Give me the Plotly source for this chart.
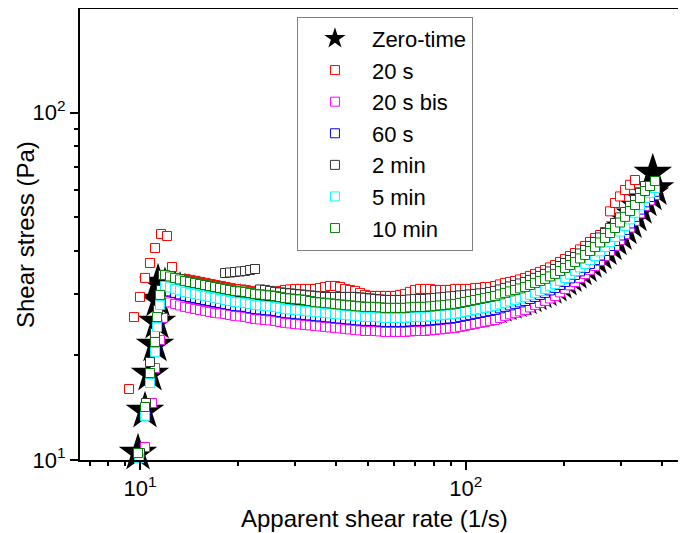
import plotly.graph_objects as go

# Shared shear-rate grid (1/s) for the main flow-curve branch
rate = [11.93, 12.36, 12.81, 13.27, 13.74, 14.24, 14.75, 15.28, 15.83, 16.40,
        16.99, 17.60, 18.24, 18.89, 19.57, 20.28, 21.01, 21.77, 22.54, 23.36,
        24.19, 25.06, 25.96, 26.90, 27.87, 28.87, 29.91, 30.98, 32.09, 33.25,
        34.44, 35.68, 36.97, 38.30, 39.67, 41.10, 42.58, 44.11, 45.70, 47.34,
        49.05, 50.81, 52.64, 54.53, 56.49, 58.52, 60.63, 62.81, 65.07, 67.41,
        69.84, 72.35, 74.95, 77.65, 80.44, 83.34, 86.34, 89.44, 92.66, 95.99,
        99.43, 103.0, 106.7, 110.6, 114.5, 118.7, 122.9, 127.3, 131.9, 136.7,
        141.6, 146.7, 152.0, 157.4, 163.1, 169.0, 175.0, 181.3, 187.9, 194.6,
        201.6, 208.9, 216.4, 224.2, 232.3, 240.6, 249.3, 258.2, 267.5, 277.2,
        287.1, 297.5, 308.2, 319.3, 330.6, 342.6, 354.8, 367.6, 380.8]

# Zero-time (stars)
zero_spike_x = [9.86, 10.36, 10.73, 11.12, 11.28, 11.36, 11.36]
zero_spike_y = [10.47, 13.84, 17.68, 21.45, 24.97, 28.90, 32.34]
zero_band = [31.52, 31.22, 30.90, 30.60, 30.30, 30.10, 29.90, 29.70, 29.50, 29.30,
             29.10, 28.92, 28.72, 28.53, 28.35, 28.25, 28.16, 27.97, 27.79, 27.70,
             27.60, 27.51, 27.42, 27.24, 27.06, 26.97, 26.88, 26.79, 26.70, 26.61,
             26.53, 26.44, 26.35, 26.26, 26.18, 26.09, 26.00, 25.92, 25.83, 25.75,
             25.66, 25.66, 25.66, 25.57, 25.49, 25.49, 25.49, 25.49, 25.49, 25.57,
             25.66, 25.66, 25.66, 25.75, 25.83, 25.92, 26.00, 26.09, 26.18, 26.35,
             26.53, 26.70, 26.88, 27.06, 27.24, 27.42, 27.60, 27.88, 28.16, 28.44,
             28.72, 29.00, 29.30, 29.70, 30.10, 30.50, 30.90, 31.40, 31.90, 32.50,
             33.20, 33.95, 34.70, 35.50, 36.30, 37.30, 38.30, 39.45, 40.60, 41.95,
             43.30, 44.90, 46.60, 48.60, 50.80, 53.40, 56.10, 58.40, 60.50]
zero_end_x = [375.0]
zero_end_y = [67.0]

# 20 s (red)
red_spike_x = [9.25, 9.585, 10.0, 10.36, 10.73, 11.12, 11.60, 12.10, 12.54]
red_spike_y = [16.01, 25.80, 29.48, 33.44, 36.91, 40.77, 44.74, 44.16, 35.96]
red_band = [33.21, 33.00, 32.78, 32.56, 32.35, 32.13, 31.92, 31.71, 31.50, 31.29,
            31.09, 30.98, 30.88, 30.68, 30.48, 30.38, 30.28, 30.38, 30.48, 30.68,
            30.88, 30.98, 31.09, 31.09, 31.09, 31.09, 31.09, 31.29, 31.50, 31.71,
            31.71, 31.50, 31.09, 30.88, 30.68, 30.28, 29.88, 29.68, 29.68, 29.68,
            29.68, 29.68, 29.68, 29.88, 30.08, 30.48, 30.88, 31.09, 31.09, 31.09,
            30.88, 30.88, 30.88, 30.88, 31.09, 31.09, 31.09, 31.09, 31.29, 31.29,
            31.50, 31.50, 31.71, 32.03, 32.35, 32.56, 32.78, 33.11, 33.44, 33.89,
            34.34, 34.80, 35.26, 35.85, 36.44, 37.18, 37.92, 38.68, 39.45, 40.39,
            41.33, 42.45, 43.58, 44.45, 45.35, 52.0, 54.95, 57.4, 59.9, 62.0,
            64.0]
red_start = 4

# 20 s bis (magenta)
mag_spike_x = [10.36, 10.88, 11.12, 11.52, 11.76]
mag_spike_y = [10.90, 14.59, 18.40, 22.17, 25.64]
mag_band = [28.71, 28.43, 28.15, 27.87, 27.60, 27.42, 27.23, 27.05, 26.87, 26.70,
            26.52, 26.43, 26.35, 26.17, 26.00, 25.91, 25.83, 25.65, 25.48, 25.39,
            25.31, 25.23, 25.15, 24.98, 24.82, 24.73, 24.65, 24.57, 24.49, 24.41,
            24.33, 24.25, 24.17, 24.09, 24.01, 23.93, 23.85, 23.77, 23.69, 23.61,
            23.53, 23.53, 23.53, 23.45, 23.38, 23.38, 23.38, 23.38, 23.38, 23.45,
            23.53, 23.53, 23.53, 23.61, 23.69, 23.77, 23.85, 23.93, 24.01, 24.17,
            24.33, 24.49, 24.65, 24.82, 24.98, 25.15, 25.31, 25.65, 26.00, 26.26,
            26.52, 26.78, 27.05, 27.50, 27.96, 28.33, 28.71, 29.19, 29.68, 30.38,
            31.09, 31.82, 32.56, 33.45, 34.34, 35.27, 36.20, 37.44, 38.68, 40.0,
            41.33, 43.0, 44.76, 46.7, 48.8, 51.3, 53.9, 55.9, 57.9]

# 60 s (blue)
blue_spike_x = [9.95, 10.4, 10.75, 11.15, 11.3, 11.55]
blue_spike_y = [10.3, 13.6, 17.0, 20.9, 24.6, 28.4]
blue_band = [30.88, 30.58, 30.28, 29.98, 29.68, 29.48, 29.29, 29.09, 28.90, 28.71,
             28.52, 28.34, 28.15, 27.96, 27.78, 27.69, 27.60, 27.42, 27.23, 27.14,
             27.05, 26.96, 26.87, 26.70, 26.52, 26.43, 26.35, 26.26, 26.17, 26.08,
             26.00, 25.91, 25.83, 25.74, 25.65, 25.56, 25.48, 25.39, 25.31, 25.23,
             25.15, 25.15, 25.15, 25.06, 24.98, 24.98, 24.98, 24.98, 24.98, 25.06,
             25.15, 25.15, 25.15, 25.23, 25.31, 25.39, 25.48, 25.56, 25.65, 25.83,
             26.00, 26.17, 26.35, 26.52, 26.70, 26.87, 27.05, 27.33, 27.60, 27.87,
             28.15, 28.43, 28.71, 29.09, 29.48, 29.88, 30.28, 30.78, 31.29, 31.92,
             32.56, 33.33, 34.11, 34.92, 35.73, 36.68, 37.67, 38.80, 39.98, 41.33,
             42.72, 44.30, 45.96, 48.0, 50.12, 52.6, 55.2, 57.2, 59.2]

# 2 min (black)
gray_spike_x = [10.0, 10.43, 10.73, 11.12, 11.36, 11.60, 11.76]
gray_spike_y = [10.47, 14.59, 19.15, 23.22, 27.05, 30.88, 34.11]
gray_band = [33.44, 33.11, 32.78, 32.56, 32.35, 32.13, 31.92, 31.71, 31.50, 31.29,
             34.55, 34.66, 34.78, 34.90, 35.02, 35.25, 35.48, 30.98, 30.88, 30.68,
             30.48, 30.38, 30.28, 30.18, 30.08, 29.98, 29.88, 29.78, 29.68, 29.58,
             29.48, 29.48, 29.48, 29.48, 29.48, 29.48, 29.48, 29.38, 29.29, 29.19,
             29.09, 29.00, 28.90, 28.90, 28.90, 28.90, 28.90, 29.00, 29.09, 29.09,
             29.09, 29.19, 29.29, 29.38, 29.48, 29.58, 29.68, 29.78, 29.88, 29.98,
             30.08, 30.18, 30.28, 30.48, 30.68, 30.98, 31.29, 31.61, 31.92, 32.24,
             32.56, 33.00, 33.44, 33.89, 34.34, 34.91, 35.48, 36.19, 36.91, 37.66,
             38.42, 39.33, 40.25, 41.34, 42.43, 43.74, 45.05, 46.59, 48.13, 49.97,
             51.8, 53.95, 56.1, 58.8, 61.5]
gray_start = 2

# 5 min (cyan)
cyan_spike_x = [9.93, 10.36, 10.73, 11.12, 11.28, 11.52]
cyan_spike_y = [10.13, 13.39, 16.66, 20.47, 24.15, 27.96]
cyan_band = [31.71, 31.40, 31.09, 30.78, 30.48, 30.28, 30.08, 29.88, 29.68, 29.48,
             29.29, 29.09, 28.90, 28.71, 28.52, 28.43, 28.34, 28.15, 27.96, 27.87,
             27.78, 27.69, 27.60, 27.42, 27.23, 27.14, 27.05, 26.96, 26.87, 26.78,
             26.70, 26.61, 26.52, 26.43, 26.35, 26.26, 26.17, 26.08, 26.00, 25.91,
             25.83, 25.83, 25.83, 25.74, 25.65, 25.65, 25.65, 25.65, 25.65, 25.74,
             25.83, 25.83, 25.83, 25.91, 26.00, 26.08, 26.17, 26.26, 26.35, 26.52,
             26.70, 26.87, 27.05, 27.23, 27.42, 27.60, 27.78, 28.06, 28.34, 28.62,
             28.90, 29.19, 29.48, 29.88, 30.28, 30.68, 31.09, 31.61, 32.13, 32.78,
             33.44, 34.23, 35.02, 35.85, 36.68, 37.68, 38.68, 39.87, 41.06, 42.47,
             43.87, 45.5, 47.2, 49.3, 51.5, 54.1, 56.8, 58.8, 60.7]

# 10 min (green)
green_spike_x = [9.86, 10.36, 10.73, 11.12, 11.28, 11.52]
green_spike_y = [10.47, 14.21, 17.80, 21.87, 25.80, 29.88]
green_band = [34.11, 33.77, 33.44, 33.11, 32.78, 32.56, 32.35, 32.13, 31.92, 31.71,
              31.50, 31.29, 31.09, 30.88, 30.68, 30.58, 30.48, 30.28, 30.08, 29.98,
              29.88, 29.78, 29.68, 29.48, 29.29, 29.19, 29.09, 29.00, 28.90, 28.71,
              28.52, 28.43, 28.34, 28.25, 28.15, 28.05, 27.96, 27.87, 27.78, 27.69,
              27.60, 27.60, 27.60, 27.51, 27.42, 27.42, 27.42, 27.42, 27.42, 27.51,
              27.60, 27.60, 27.60, 27.69, 27.78, 27.87, 27.96, 28.05, 28.15, 28.34,
              28.52, 28.71, 28.90, 29.09, 29.29, 29.48, 29.68, 29.98, 30.28, 30.58,
              30.88, 31.19, 31.50, 31.92, 32.35, 32.78, 33.22, 33.78, 34.34, 35.02,
              35.73, 36.44, 37.18, 38.05, 38.94, 39.98, 41.06, 42.30, 43.58, 45.05,
              46.56, 48.30, 50.12, 52.13, 54.22, 56.80, 59.5, 61.5, 63.6]

x_ticks = [10, 100]
x_ticktext = ["10<sup>1</sup>", "10<sup>2</sup>"]
x_minor = [7, 8, 9, 20, 30, 40, 50, 60, 70, 80, 90, 200, 300, 400]
y_ticks = [10, 100]
y_ticktext = ["10<sup>1</sup>", "10<sup>2</sup>"]
y_minor = [20, 30, 40, 50, 60, 70, 80, 90, 200]

FONT = "Liberation Sans, Arial, sans-serif"

for b in (zero_band, mag_band, blue_band, cyan_band, green_band):
    assert len(b) == len(rate), len(b)
assert red_start + len(red_band) <= len(rate)
assert gray_start + len(gray_band) <= len(rate)


def band_x(start, band):
    return rate[start:start + len(band)]


fig = go.Figure()

fig.add_trace(go.Scatter(
    x=zero_spike_x + band_x(0, zero_band) + zero_end_x,
    y=zero_spike_y + zero_band + zero_end_y,
    mode="markers", name="Zero-time", cliponaxis=False,
    marker=dict(symbol="star", size=29, color="black", line=dict(color="black", width=0)),
))

series = [
    ("20 s", "#FF0000", red_spike_x, red_spike_y, red_start, red_band),
    ("20 s bis", "#FF00FF", mag_spike_x, mag_spike_y, 0, mag_band),
    ("60 s", "#0000FF", blue_spike_x, blue_spike_y, 0, blue_band),
    ("2 min", "#333333", gray_spike_x, gray_spike_y, gray_start, gray_band),
    ("5 min", "#00FFFF", cyan_spike_x, cyan_spike_y, 0, cyan_band),
    ("10 min", "#008000", green_spike_x, green_spike_y, 0, green_band),
]
for name, col, sx, sy, st, band in series:
    fig.add_trace(go.Scatter(
        x=sx + band_x(st, band), y=sy + band,
        mode="markers", name=name, cliponaxis=False,
        marker=dict(symbol="square", size=9, color="white", line=dict(color=col, width=1)),
    ))

axis_common = dict(
    type="log", showline=True, linecolor="black", linewidth=2,
    ticks="outside", ticklen=8, tickwidth=2, tickcolor="black",
    showgrid=False, zeroline=False, automargin=False,
    tickfont=dict(family=FONT, size=22, color="black"),
)

fig.update_xaxes(
    range=[0.8158, 2.6759], mirror=True,
    tickmode="array", tickvals=x_ticks, ticktext=x_ticktext,
    minor=dict(tickmode="array", tickvals=x_minor, ticks="outside", ticklen=4,
               tickwidth=2, tickcolor="black", showgrid=False),
    **axis_common,
)
fig.update_yaxes(
    range=[1.0, 2.2986],
    tickmode="array", tickvals=y_ticks, ticktext=y_ticktext,
    minor=dict(tickmode="array", tickvals=y_minor, ticks="outside", ticklen=4,
               tickwidth=2, tickcolor="black", showgrid=False),
    **axis_common,
)

fig.add_annotation(text="Apparent shear rate (1/s)", xref="paper", yref="paper",
                   x=0.486, y=-0.1308, xanchor="center", yanchor="middle",
                   showarrow=False, font=dict(family=FONT, size=24, color="black"))
fig.add_annotation(text="Shear stress (Pa)", xref="paper", yref="paper",
                   x=-0.0891, y=0.4989, xanchor="center", yanchor="middle",
                   textangle=-90, showarrow=False,
                   font=dict(family=FONT, size=24, color="black"))

# The page body adds an 8 px offset, so the figure is 8 px smaller than the window.
fig.update_layout(
    width=678, height=525,
    margin=dict(l=72, r=0, t=1, b=73),
    plot_bgcolor="white", paper_bgcolor="white",
    font=dict(family=FONT, size=22, color="black"),
    showlegend=True,
    legend=dict(x=0.358, y=0.983, xanchor="left", yanchor="top",
                bordercolor="#808080", borderwidth=1, bgcolor="white",
                font=dict(family=FONT, size=22, color="black"),
                itemwidth=64, entrywidth=106, entrywidthmode="pixels",
                tracegroupgap=0),
)

fig.write_html("out.html")
